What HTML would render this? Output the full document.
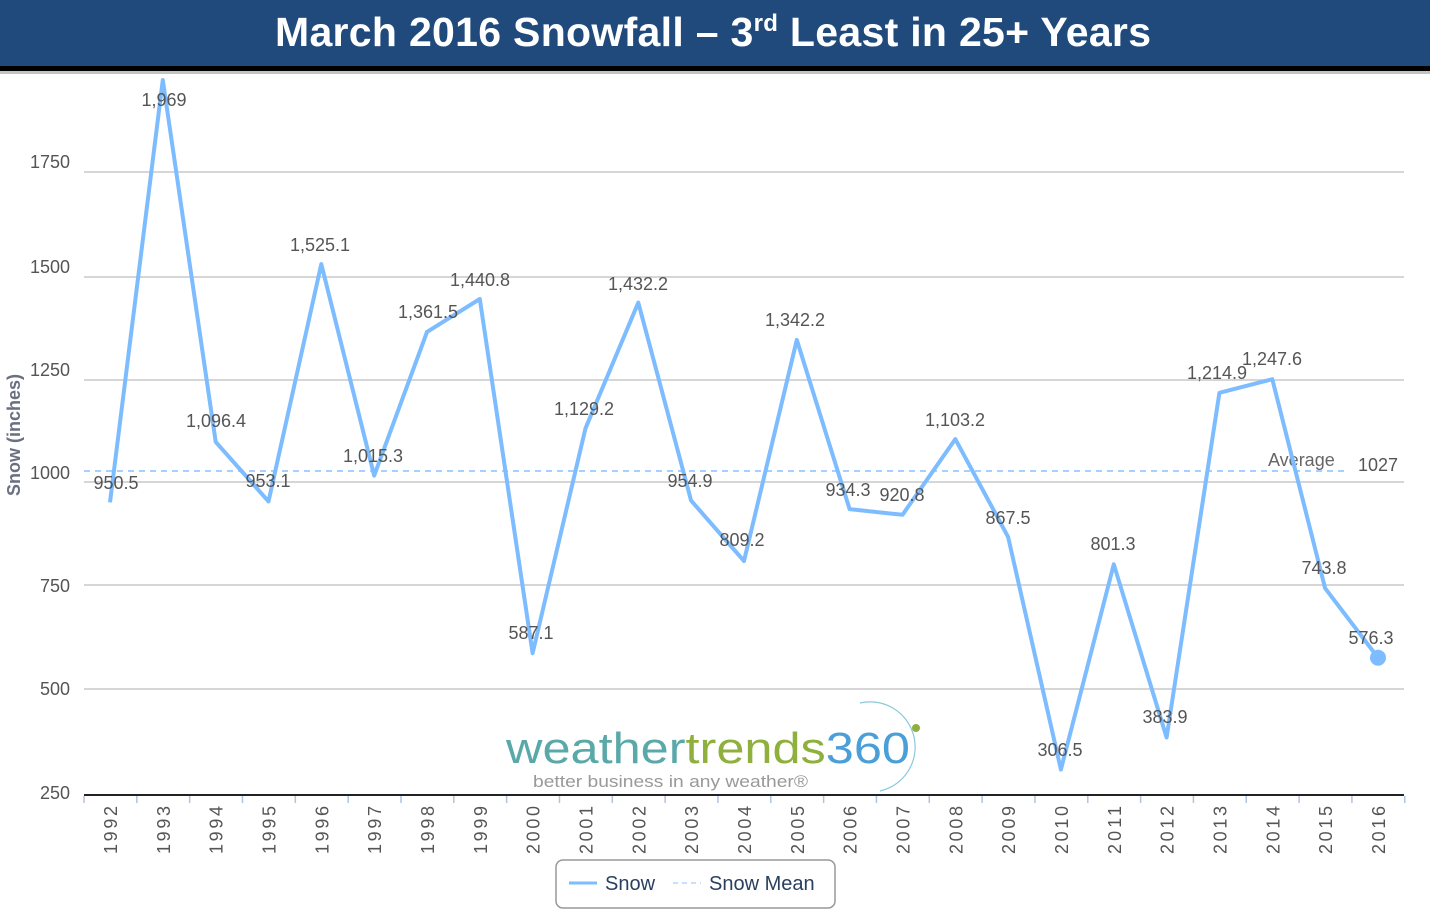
<!DOCTYPE html>
<html><head><meta charset="utf-8"><style>
body{margin:0;background:#fff;}
svg{display:block;font-family:"Liberation Sans",sans-serif;}
</style></head><body>
<svg width="1430" height="920" viewBox="0 0 1430 920" xmlns="http://www.w3.org/2000/svg">
<rect x="0" y="0" width="1430" height="66" fill="#214a7c"/>
<rect x="0" y="66" width="1430" height="5" fill="#000"/>
<rect x="0" y="71" width="1430" height="3" fill="#888" opacity="0.5"/>
<text x="713" y="46" text-anchor="middle" fill="#fff" font-size="41" font-weight="bold" textLength="876">March 2016 Snowfall – 3<tspan font-size="24" dy="-15">rd</tspan><tspan dy="15"> Least in 25+ Years</tspan></text>
<g stroke="#c8c8c8" stroke-width="1.5">
<line x1="84" y1="172" x2="1404" y2="172"/>
<line x1="84" y1="277" x2="1404" y2="277"/>
<line x1="84" y1="380" x2="1404" y2="380"/>
<line x1="84" y1="482" x2="1404" y2="482"/>
<line x1="84" y1="585" x2="1404" y2="585"/>
<line x1="84" y1="689" x2="1404" y2="689"/>
</g>
<line x1="84" y1="795" x2="1404" y2="795" stroke="#222" stroke-width="2"/>
<g fill="#555" font-size="18" text-anchor="end">
<text x="70" y="168">1750</text><text x="70" y="273">1500</text><text x="70" y="376">1250</text>
<text x="70" y="479">1000</text><text x="70" y="592">750</text><text x="70" y="695">500</text><text x="70" y="799">250</text>
</g>
<text transform="translate(20,435) rotate(-90)" text-anchor="middle" fill="#6b7080" font-size="18" font-weight="bold">Snow (inches)</text>
<g stroke="#b0c4de" stroke-width="1.5" id="ticks"></g>
<g font-size="18" fill="#555" text-anchor="end" id="xl"></g>
<!-- logo -->
<text x="506" y="763" font-size="44" fill="#5aa8a8" textLength="404" lengthAdjust="spacingAndGlyphs">weather<tspan fill="#8fb03c">trends</tspan><tspan fill="#4a9fd8">360</tspan></text>
<text x="533" y="787" font-size="17" fill="#999" textLength="275" lengthAdjust="spacingAndGlyphs">better business in any weather®</text>
<path d="M 860 703 A 45 45 0 1 1 880 791" fill="none" stroke="#8cc8dc" stroke-width="1.2"/>
<circle cx="916" cy="728" r="4" fill="#8fb03c"/>
<line x1="84" y1="471" x2="1345" y2="471" stroke="#a6d0ff" stroke-width="2" stroke-dasharray="6,5"/>
<text x="1268" y="466" font-size="18" fill="#666">Average</text>
<text x="1358" y="471" font-size="18" fill="#555">1027</text>
<polyline fill="none" stroke="#7cbcff" stroke-width="4" stroke-linejoin="round" points="110,502.4 162.8,80 215.7,441.9 268.5,501.4 321.3,264.1 374.2,475.6 427,331.9 479.8,299 532.6,653.2 585.5,428.3 638.3,302.6 691.1,500.6 744,561 796.8,339.9 849.6,509.1 902.5,514.8 955.3,439.1 1008.1,536.9 1060.9,769.6 1113.8,564.3 1166.6,737.5 1219.4,392.8 1272.3,379.2 1325.1,588.2 1378,657.7"/>
<circle cx="1378" cy="657.7" r="8" fill="#7cbcff"/>
<g font-size="18" fill="#555" text-anchor="middle">
<text x="116" y="489">950.5</text><text x="164" y="106">1,969</text><text x="216" y="427">1,096.4</text>
<text x="268" y="487">953.1</text><text x="320" y="251">1,525.1</text><text x="373" y="462">1,015.3</text>
<text x="428" y="318">1,361.5</text><text x="480" y="286">1,440.8</text><text x="531" y="639">587.1</text>
<text x="584" y="415">1,129.2</text><text x="638" y="290">1,432.2</text><text x="690" y="487">954.9</text>
<text x="742" y="546">809.2</text><text x="795" y="326">1,342.2</text><text x="848" y="496">934.3</text>
<text x="902" y="501">920.8</text><text x="955" y="426">1,103.2</text><text x="1008" y="524">867.5</text>
<text x="1060" y="756">306.5</text><text x="1113" y="550">801.3</text><text x="1165" y="723">383.9</text>
<text x="1217" y="379">1,214.9</text><text x="1272" y="365">1,247.6</text><text x="1324" y="574">743.8</text>
<text x="1371" y="644">576.3</text>
</g>
<rect x="556" y="860" width="279" height="48" rx="7" fill="#fff" stroke="#999" stroke-width="1.5"/>
<line x1="569" y1="883" x2="597" y2="883" stroke="#7cbcff" stroke-width="3"/>
<text x="605" y="890" font-size="20" fill="#2a3f5f">Snow</text>
<line x1="673" y1="883" x2="701" y2="883" stroke="#c6e0ff" stroke-width="2" stroke-dasharray="5,4"/>
<text x="709" y="890" font-size="20" fill="#2a3f5f">Snow Mean</text>
<script>
var t=document.getElementById('ticks'),xl=document.getElementById('xl'),ns='http://www.w3.org/2000/svg';
for(var i=0;i<=25;i++){var x=84+i*52.83;var l=document.createElementNS(ns,'line');l.setAttribute('x1',x);l.setAttribute('x2',x);l.setAttribute('y1',796);l.setAttribute('y2',803);t.appendChild(l);}
for(var i=0;i<25;i++){var x=110+i*52.83+7;var e=document.createElementNS(ns,'text');e.setAttribute('transform','translate('+x+',806) rotate(-90)');e.setAttribute('textLength','48');e.textContent=1992+i;xl.appendChild(e);}
</script>
</svg>
</body></html>
